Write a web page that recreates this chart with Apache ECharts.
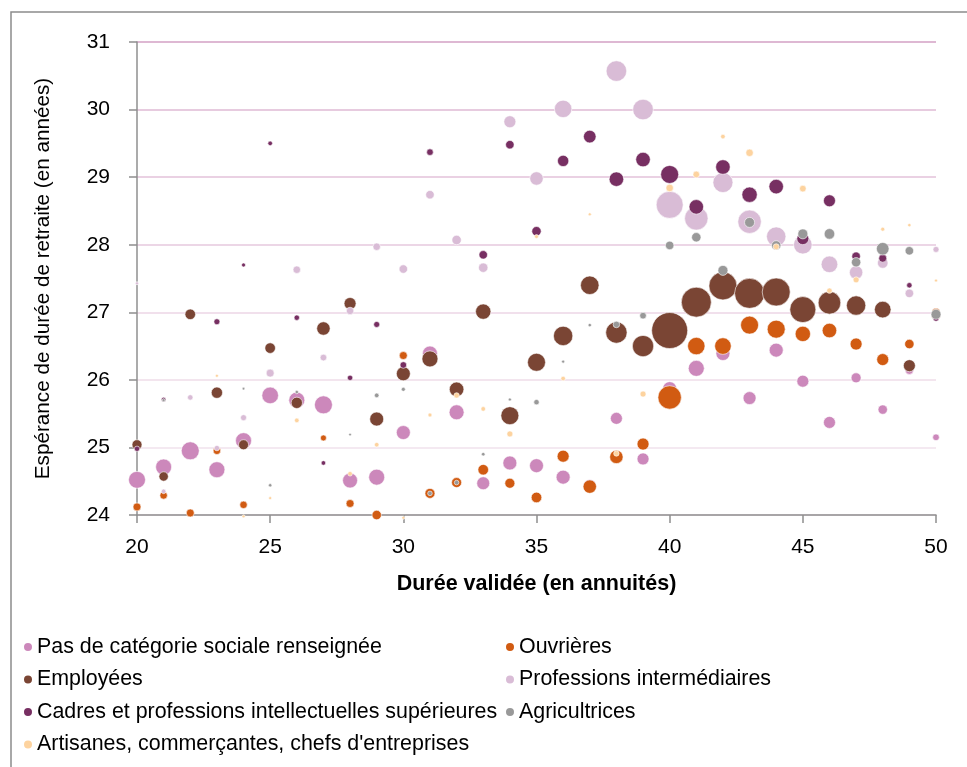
<!DOCTYPE html>
<html>
<head>
<meta charset="utf-8">
<script src="https://cdn.jsdelivr.net/npm/echarts@6/dist/echarts.min.js"></script>
<style>
  html, body { margin: 0; padding: 0; background: #fff; }
  #chart { width: 967px; height: 767px; }
</style>
</head>
<body>
<div id="chart"></div>
<script>
// Each point: [durée validée (annuités), espérance de durée de retraite (années), effectif relatif]
const pasCategorie = [
  [20,24.52,72],[21,24.71,64],[22,24.95,81],[23,24.67,64],[24,25.10,64],[25,25.77,69],
  [26,25.70,64],[27,25.63,81],[28,24.51,56],[29,24.56,64],[30,25.22,49],[31,26.39,56],
  [32,25.52,56],[33,24.47,42],[34,24.77,49],[35,24.73,49],[36,24.56,49],[37,24.43,42],
  [38,25.43,36],[39,24.83,36],[40,25.87,49],[41,26.17,64],[42,26.39,49],[43,25.73,42],
  [44,26.44,49],[45,25.98,36],[46,25.37,36],[47,26.03,25],[48,25.56,22],[49,26.14,16],
  [50,25.15,11]
];
const ouvrieres = [
  [20,24.12,16],[21,24.29,14],[22,24.03,16],[23,24.95,14],[24,24.15,14],[27,25.14,9],
  [28,24.17,16],[29,24.00,22],[30,26.36,16],[31,24.32,25],[32,24.48,25],[33,24.67,28],
  [34,24.47,25],[35,24.26,28],[36,24.87,36],[37,24.42,45],[38,24.86,45],[39,25.05,36],
  [40,25.74,137],[41,26.50,76],[42,26.50,69],[43,26.81,81],[44,26.75,81],[45,26.68,59],
  [46,26.73,53],[47,26.53,36],[48,26.30,36],[49,26.53,22],[50,27.00,16]
];
const employees = [
  [20,25.04,25],[21,24.57,22],[22,26.97,28],[23,25.81,32],[24,25.04,25],[25,26.47,28],
  [26,25.66,32],[27,26.76,45],[28,27.13,36],[29,25.42,49],[30,26.09,49],[31,26.31,64],
  [32,25.86,53],[33,27.01,59],[34,25.47,81],[35,26.26,81],[36,26.65,94],[37,27.40,86],
  [38,26.70,114],[39,26.50,114],[40,26.73,324],[41,27.15,225],[42,27.39,196],[43,27.28,225],
  [44,27.30,196],[45,27.04,169],[46,27.14,128],[47,27.10,94],[48,27.04,69],[49,26.21,36],
  [50,26.95,20]
];
const professionsInter = [
  [20,27.43,2.3],[21,24.35,5.3],[22,25.74,7.3],[23,24.99,7.3],[24,25.44,9],[25,26.10,16],
  [26,27.63,14],[27,26.33,11],[28,27.02,14],[29,27.97,14],[30,27.64,18],[31,28.74,18],
  [32,28.07,22],[33,27.66,22],[34,29.82,36],[35,28.98,45],[36,30.01,76],[38,30.57,106],
  [39,30.00,106],[40,28.59,182],[41,28.39,137],[42,28.92,100],[43,28.34,137],[44,28.12,94],
  [45,28.00,86],[46,27.71,69],[47,27.59,45],[48,27.73,28],[49,27.28,18],[50,27.93,9]
];
const cadres = [
  [20,24.98,7.3],[21,25.71,5.3],[23,26.86,9],[24,27.70,4],[25,29.50,5.3],[26,26.92,7.3],
  [27,24.77,5.3],[28,26.03,7.3],[29,26.82,9],[30,26.22,11],[31,29.37,11],[33,27.85,18],
  [34,29.48,18],[35,28.20,22],[36,29.24,32],[37,29.60,40],[38,28.97,53],[39,29.26,53],
  [40,29.04,81],[41,28.56,53],[42,29.15,53],[43,28.74,59],[44,28.86,53],[45,28.09,36],
  [46,28.65,36],[47,27.83,18],[48,27.80,16],[49,27.40,7.3],[50,26.91,9]
];
const agricultrices = [
  [21,25.70,2.3],[24,25.87,1.7],[25,24.44,2.9],[26,25.82,2.9],[28,25.19,1.7],[29,25.77,5.3],
  [30,25.86,4],[31,24.32,5.3],[32,24.48,5.3],[33,24.90,3.2],[34,25.71,2.3],[35,25.67,7.3],
  [36,26.27,2.3],[37,26.81,2.9],[38,26.82,11],[39,26.95,11],[40,27.99,18],[41,28.11,22],
  [42,27.62,25],[43,28.33,25],[44,27.99,22],[45,28.16,25],[46,28.16,28],[47,27.74,22],
  [48,27.94,40],[49,27.91,18],[50,26.97,25]
];
const artisanes = [
  [23,26.06,2.3],[24,23.98,2.3],[25,24.25,2.3],[26,25.40,5.3],[28,24.61,5.3],[29,25.04,5.3],
  [30,23.96,2.3],[31,25.48,4],[32,25.77,7.3],[33,25.57,5.3],[34,25.20,9],[35,28.12,4],
  [36,26.02,5.3],[37,28.45,2.3],[38,24.91,7.3],[39,25.79,9],[40,28.84,14],[41,29.04,11],
  [42,29.60,5.3],[43,29.36,14],[44,27.97,9],[45,28.83,11],[46,27.32,7.3],[47,27.48,9],
  [48,28.23,4],[49,28.29,2.9],[50,27.47,2.3]
];

const xTicks = { min: 20, max: 50, step: 5 };
const yTicks = { min: 24, max: 31, step: 1 };

const FONT = '"Liberation Sans", Arial, sans-serif';

const seriesDefs = [
  { name: 'Pas de catégorie sociale renseignée', data: pasCategorie, color: '#CC88BB' },
  { name: 'Ouvrières', data: ouvrieres, color: '#D15B12' },
  { name: 'Employées', data: employees, color: '#7A4534' },
  { name: 'Professions intermédiaires', data: professionsInter, color: '#D9BCD6' },
  { name: 'Cadres et professions intellectuelles supérieures', data: cadres, color: '#772F62' },
  { name: 'Agricultrices', data: agricultrices, color: '#999999' },
  { name: "Artisanes, commerçantes, chefs d'entreprises", data: artisanes, color: '#FDD39F' }
];

const legendCommon = {
  orient: 'vertical',
  icon: 'circle',
  padding: 0,
  itemWidth: 10,
  itemHeight: 10,
  itemGap: 10.5,
  selectedMode: false,
  textStyle: { fontFamily: FONT, fontSize: 21.4, color: '#000', lineHeight: 22, padding: [0, 0, 0, -1] }
};

const chart = echarts.init(document.getElementById('chart'), null, { renderer: 'canvas' });

chart.setOption({
  animation: false,
  backgroundColor: '#fff',
  graphic: [{
    type: 'rect',
    shape: { x: 11, y: 12, width: 1000, height: 800 },
    style: { fill: 'none', stroke: '#8c8c8c', lineWidth: 1.5 },
    silent: true
  }],
  grid: { left: 137, top: 42, width: 799, height: 473 },
  legend: [
    Object.assign({}, legendCommon, {
      left: 22, top: 636,
      data: [seriesDefs[0].name, seriesDefs[2].name, seriesDefs[4].name, seriesDefs[6].name]
    }),
    Object.assign({}, legendCommon, {
      left: 504, top: 636,
      data: [seriesDefs[1].name, seriesDefs[3].name, seriesDefs[5].name]
    })
  ],
  xAxis: {
    type: 'value',
    min: xTicks.min, max: xTicks.max, interval: xTicks.step,
    name: 'Durée validée (en annuités)',
    nameLocation: 'middle',
    nameGap: 58,
    nameTextStyle: { fontFamily: FONT, fontSize: 21.5, fontWeight: 'bold', color: '#000' },
    axisLine: { show: true, onZero: false, lineStyle: { color: '#8f8f8f', width: 1.5 } },
    axisTick: { show: true, length: 8, lineStyle: { color: '#8f8f8f', width: 1.5 } },
    axisLabel: { margin: 22, fontFamily: FONT, fontSize: 21, color: '#000' },
    splitLine: { show: false }
  },
  yAxis: {
    type: 'value',
    min: yTicks.min, max: yTicks.max, interval: yTicks.step,
    name: 'Espérance de durée de retraite (en années)',
    nameLocation: 'middle',
    nameRotate: 90,
    nameGap: 83,
    nameTextStyle: { fontFamily: FONT, fontSize: 20.7, color: '#000' },
    axisLine: { show: true, onZero: false, lineStyle: { color: '#8f8f8f', width: 1.5 } },
    axisTick: { show: true, length: 8, lineStyle: { color: '#8f8f8f', width: 1.5 } },
    axisLabel: { margin: 27, fontFamily: FONT, fontSize: 21, color: '#000' },
    splitLine: {
      show: true,
      lineStyle: {
        width: 1.5,
        color: ['#f1e2ed', '#f1e2ed', '#efdde9', '#ecd6e6', '#e6c9de', '#e3c2da', '#dfbad5', '#d3a1c5']
      }
    }
  },
  series: seriesDefs.map(s => ({
    name: s.name,
    type: 'scatter',
    data: s.data,
    clip: false,
    symbol: 'circle',
    symbolSize: v => 2 * Math.sqrt(v[2]),
    itemStyle: { color: s.color, opacity: 1, borderColor: '#ffffff', borderWidth: 0.6 },
    emphasis: { disabled: true }
  }))
});
</script>
</body>
</html>
